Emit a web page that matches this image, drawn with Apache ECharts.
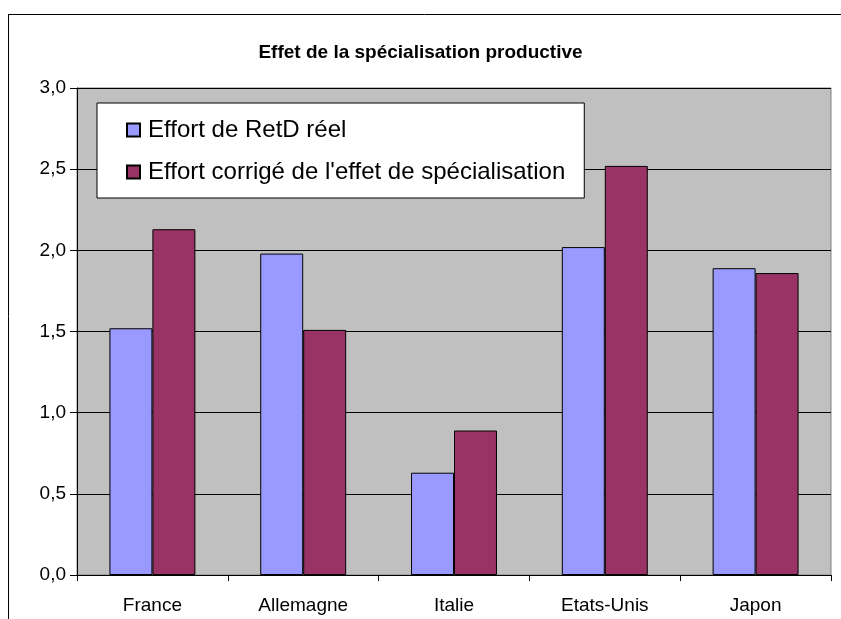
<!DOCTYPE html>
<html>
<head>
<meta charset="utf-8">
<script src="https://cdn.jsdelivr.net/npm/echarts@6/dist/echarts.min.js"></script>
<style>
html,body{margin:0;padding:0;background:#fff;}
#c{width:841px;height:619px;}
</style>
</head>
<body>
<div id="c"></div>
<script>
const titleText = "Effet de la spécialisation productive";
const categories = ["France", "Allemagne", "Italie", "Etats-Unis", "Japon"];
const seriesNames = ["Effort de RetD réel", "Effort corrigé de l'effet de spécialisation"];
const reel = [1.52, 1.98, 0.63, 2.02, 1.89];
const corrige = [2.13, 1.51, 0.89, 2.52, 1.86];
const yTicks = { min: 0, max: 3, interval: 0.5 };

const chart = echarts.init(document.getElementById('c'), null, { renderer: 'canvas' });
const font = 'Liberation Sans, Arial, sans-serif';
chart.setOption({
  animation: false,
  backgroundColor: '#ffffff',
  textStyle: { fontFamily: font },
  title: {
    text: titleText,
    left: 'center',
    top: 38,
    textStyle: { fontSize: 19, fontWeight: 'bold', color: '#000', fontFamily: font }
  },
  legend: {
    orient: 'vertical',
    left: 97,
    top: 103,
    backgroundColor: '#ffffff',
    borderColor: '#000',
    borderWidth: 1,
    padding: [15, 19, 14, 29],
    itemGap: 18,
    itemWidth: 13,
    itemHeight: 13,
    icon: 'rect',
    textStyle: { fontSize: 24, color: '#000', fontFamily: font, padding: [0, 0, 0, 3] },
    data: seriesNames
  },
  grid: {
    left: 77, right: 10, top: 88, bottom: 44,
    show: true,
    backgroundColor: '#C0C0C0',
    borderColor: '#808080',
    borderWidth: 1
  },
  xAxis: {
    type: 'category',
    data: categories,
    axisLine: { show: true, lineStyle: { color: '#000', width: 1 } },
    axisTick: { show: true, length: 6, alignWithLabel: false, lineStyle: { color: '#000' } },
    axisLabel: { margin: 21, fontSize: 19, color: '#000', fontFamily: font },
    splitLine: { show: false }
  },
  yAxis: {
    type: 'value',
    min: yTicks.min, max: yTicks.max, interval: yTicks.interval,
    axisLine: { show: true, lineStyle: { color: '#000', width: 1 } },
    axisTick: { show: true, length: 7, inside: false, lineStyle: { color: '#000' } },
    axisLabel: {
      margin: 11, fontSize: 19, color: '#000', fontFamily: font,
      formatter: v => v.toFixed(1).replace('.', ',')
    },
    splitLine: { show: true, lineStyle: { color: '#000', width: 1 } }
  },
  series: [
    {
      name: seriesNames[0], type: 'bar', data: reel,
      barGap: '0%', barCategoryGap: '43%',
      itemStyle: { color: '#9999FF', borderColor: '#000', borderWidth: 1 }
    },
    {
      name: seriesNames[1], type: 'bar', data: corrige,
      barGap: '0%', barCategoryGap: '43%',
      itemStyle: { color: '#993366', borderColor: '#000', borderWidth: 1 }
    }
  ],
  graphic: [
    { type: 'line', shape: { x1: 8.5, y1: 14, x2: 8.5, y2: 619 }, style: { stroke: '#000', lineWidth: 1 }, z: 100 },
    { type: 'line', shape: { x1: 8, y1: 14.5, x2: 841, y2: 14.5 }, style: { stroke: '#000', lineWidth: 1 }, z: 100 }
  ]
});
</script>
</body>
</html>
